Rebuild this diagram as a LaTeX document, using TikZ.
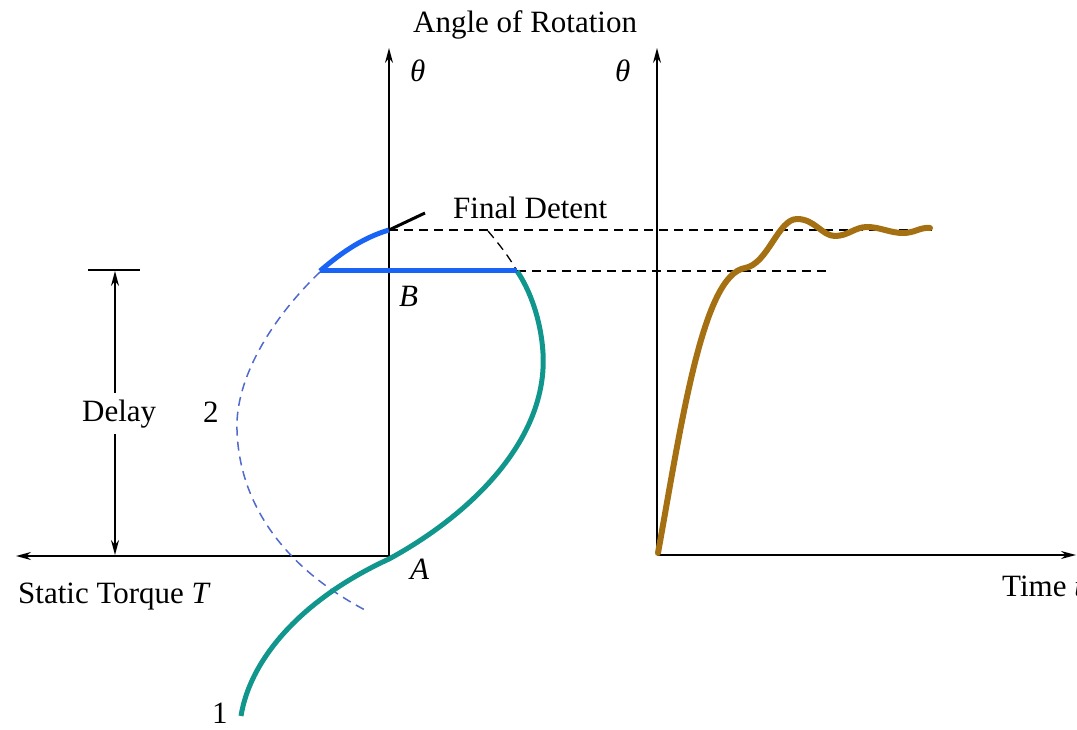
\documentclass[tikz,border=0pt]{standalone}
\usepackage{fontspec}
\setmainfont{Liberation Serif}
\usetikzlibrary{arrows.meta}
\definecolor{tealc}{RGB}{16,150,140}
\definecolor{bluec}{RGB}{25,100,245}
\definecolor{dblue}{RGB}{80,105,205}
\definecolor{brownc}{RGB}{165,112,18}
\begin{document}
\begin{tikzpicture}[x=1pt,y=-1pt,
  lbl/.style={inner sep=0pt, anchor=base west, font=\fontsize{31}{36}\selectfont},
  axisline/.style={line width=1.5pt, -{Stealth[length=15pt,width=8pt]}},
  delayarrow/.style={line width=1.5pt, {Stealth[length=15pt,width=8pt]}-{Stealth[length=15pt,width=8pt]}},
  tealcurve/.style={tealc, line width=5pt},
  bluethick/.style={bluec, line width=5pt},
  dashblue/.style={dblue, line width=1.5pt, dash pattern=on 9pt off 6pt},
  dashblack/.style={black, line width=1.3pt, dash pattern=on 9pt off 6pt},
  browncurve/.style={brownc, line width=6pt, line cap=round, line join=round}]
\useasboundingbox (0,0) rectangle (1077,730);

% key points
\coordinate (A) at (389,556);
\coordinate (Ltop) at (389,48);
\coordinate (Lleft) at (16,556);
\coordinate (O) at (657,555);
\coordinate (Rtop) at (657,48);
\coordinate (Rright) at (1076,555);
\coordinate (P) at (320,271);
\coordinate (Q) at (517,271);
\coordinate (F) at (389,230);
\coordinate (Fend) at (425,213);
\coordinate (Fdash) at (932,230);
\coordinate (Qdash) at (826,271);
\coordinate (Dtop) at (115,271);
\coordinate (Dbot) at (115,555);
\coordinate (Tl) at (88,270);
\coordinate (Tr) at (140,270);

% axes
\draw[axisline] (A) -- (Ltop);
\draw[axisline] (A) -- (Lleft);
\draw[axisline] (O) -- (Rtop);
\draw[axisline] (O) -- (Rright);

% delay
\draw[line width=1.3pt] (Tl) -- (Tr);
\draw[delayarrow] (Dtop) -- (Dbot);
\node[lbl, fill=white, inner ysep=6pt, inner xsep=2pt] (delay) at (80,421) {Delay};

% dashed horizontals
\draw[dashblack] (F) -- (Fdash);
\draw[dashblack] (Q) -- (Qdash);

% curve 2 dashed blue
\draw[dashblue] (320,272) .. controls (270,320) and (235,380) .. (237,430)
   .. controls (239,500) and (280,565) .. (365,610);

% curve 1 teal
\draw[tealcurve] (241,716) .. controls (250,660) and (300,600) .. (389,559)
   .. controls (470,515) and (548,440) .. (543,353)
   .. controls (541,320) and (530,290) .. (Q);

% final detent dashed
\draw[dashblack] (488,231) .. controls (498,243) and (508,255) .. (Q);

% blue parts
\draw[bluethick] (P) -- (Q);
\draw[bluethick] (P) .. controls (343,251) and (365,237) .. (F);
\draw[line width=3pt, black] (F) -- (Fend);

% brown response
\draw[browncurve] (658,553) .. controls (682,420) and (703,275) .. (745,268)
   .. controls (768,264) and (778,219) .. (797,219)
   .. controls (815,219) and (822,236) .. (835,236)
   .. controls (848,236) and (855,227) .. (867,227)
   .. controls (880,227) and (890,233) .. (903,233)
   .. controls (915,233) and (920,227) .. (930,228);

% labels
\node[lbl] (angle) at (413,33) {Angle of Rotation};
\node[lbl] (th1) at (410,82) {\textit{θ}};
\node[lbl] (th2) at (615,82) {\textit{θ}};
\node[lbl] (fd) at (453,219) {Final Detent};
\node[lbl] (B) at (399,307) {\textit{B}};
\node[lbl] (Alab) at (410,579) {\textit{A}};
\node[lbl] (two) at (203,422) {2};
\node[lbl] (one) at (212,723) {1};
\node[lbl] (st) at (18,603) {Static Torque \textit{T}};
\node[lbl] (time) at (1002,596) {Time \textit{t}};
\end{tikzpicture}
\end{document}
